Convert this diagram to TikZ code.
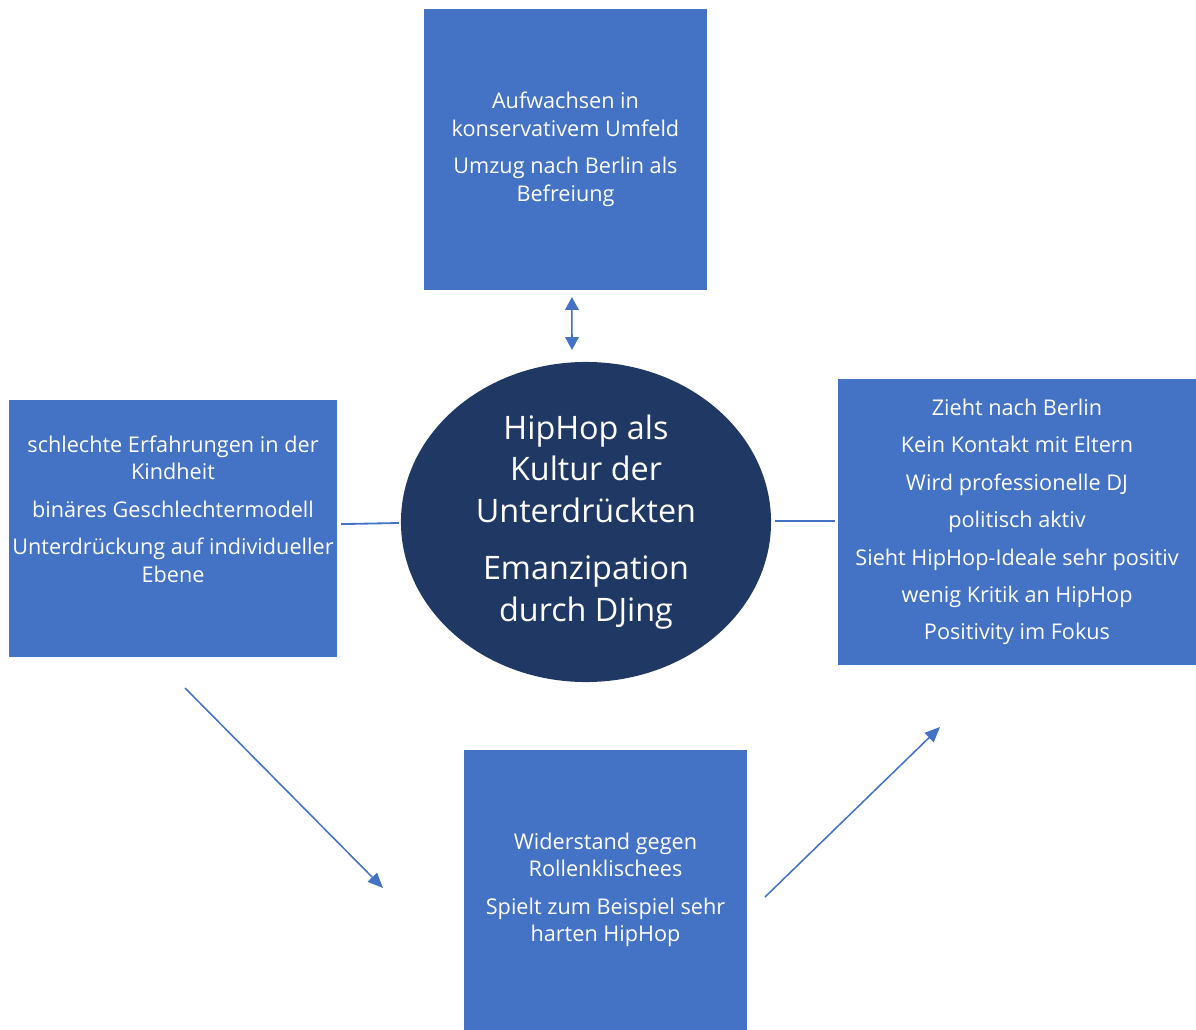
\documentclass[tikz,border=0pt]{standalone}
\usepackage{fontspec}
\setmainfont{Open Sans}
\usepackage{tikz}
\usetikzlibrary{arrows.meta,shapes}
\definecolor{boxBlue}{HTML}{4472C4}
\definecolor{hubNavy}{HTML}{203864}
\tikzstyle{infobox} = [rectangle, fill=boxBlue, text=white, align=center,
      inner sep=0pt, outer sep=0pt, font=\fontsize{15.4}{19.6}\selectfont]
\tikzstyle{hub} = [ellipse, fill=hubNavy, text=white, align=center,
      inner sep=0pt, outer sep=0pt, minimum width=9.25cm, minimum height=8cm,
      font=\fontsize{23}{29.5}\selectfont]
\tikzstyle{link} = [draw=boxBlue, line width=1.1pt, -{Triangle[length=0.38cm,width=0.32cm]}]
\tikzstyle{bar} = [draw=boxBlue, line width=1.3pt]

\begin{document}
\begin{tikzpicture}[x=0.025cm, y=-0.025cm]
	  \useasboundingbox (0,0) rectangle (1196,1030);
	  % Nodes
	  \node [hub] (hub) at (586,522) {HipHop als\\Kultur der\\Unterdrückten\\[0.4cm]Emanzipation\\durch DJing};
	  \node [infobox, minimum width=7.075cm, minimum height=7.025cm] (upbringing) at (565.5,149.5)
	      {Aufwachsen in\\konservativem Umfeld\\[7pt]Umzug nach Berlin als\\Befreiung};
	  \node [infobox, minimum width=8.2cm, minimum height=6.425cm] (childhood) at (173,528.5) {};
	  \node [infobox] (childhoodText) at (173,509)
	      {schlechte Erfahrungen in der\\Kindheit\\[7pt]binäres Geschlechtermodell\\[7pt]Unterdrückung auf individueller\\Ebene};
	  \node [infobox, minimum width=8.95cm, minimum height=7.15cm] (career) at (1017,522)
	      {Zieht nach Berlin\\[7pt]Kein Kontakt mit Eltern\\[7pt]Wird professionelle DJ\\[7pt]politisch aktiv\\[7pt]Sieht HipHop-Ideale sehr positiv\\[7pt]wenig Kritik an HipHop\\[7pt]Positivity im Fokus};
	  \node [infobox, minimum width=7.075cm, minimum height=7cm] (resistance) at (605.5,890)
	      {Widerstand gegen\\Rollenklischees\\[7pt]Spielt zum Beispiel sehr\\harten HipHop};
	  \coordinate (flowAStart) at (185,688);
	  \coordinate (flowAEnd) at (383,888);
	  \coordinate (flowBStart) at (765,897);
	  \coordinate (flowBEnd) at (940,727);
	  % Verbindungen
	  \path [link, {Triangle[length=0.32cm,width=0.34cm]}-{Triangle[length=0.32cm,width=0.34cm]}]
	      ([xshift=0.16cm,yshift=-0.175cm]upbringing.south) -- ([xshift=-0.35cm,yshift=0.3cm]hub.north);
	  \path [bar] ([xshift=0.1cm,yshift=0.11cm]childhood.east) -- ([xshift=-0.05cm,yshift=-0.025cm]hub.west);
	  \path [bar] ([xshift=0.1cm,yshift=0.025cm]hub.east) -- ([xshift=-0.075cm,yshift=0.025cm]career.west);
	  %Ablauf
	  \path [link] (flowAStart) -- (flowAEnd);
	  \path [link] (flowBStart) -- (flowBEnd);
\end{tikzpicture}
\end{document}
